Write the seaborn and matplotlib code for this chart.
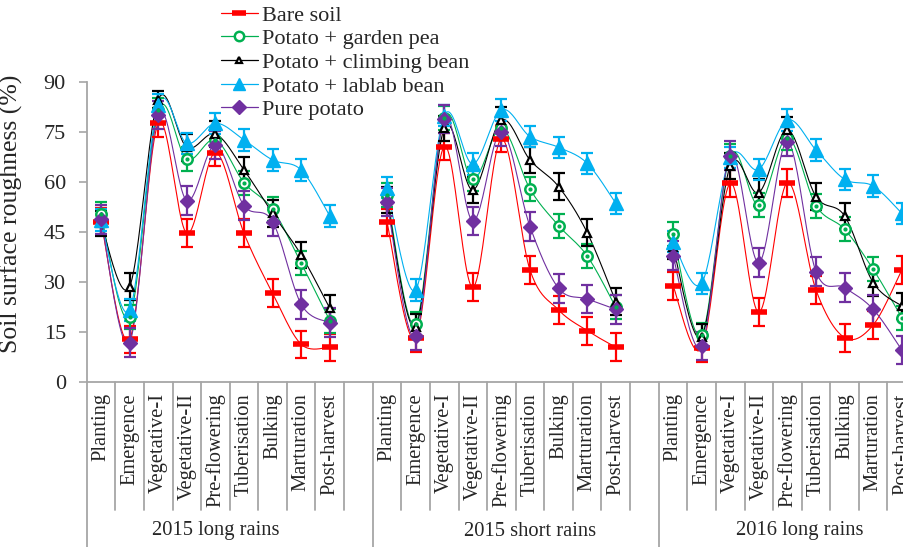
import numpy as np
import pandas as pd
import matplotlib
matplotlib.use("Agg")
import matplotlib.pyplot as plt
import seaborn as sns
from matplotlib.lines import Line2D
from matplotlib.transforms import blended_transform_factory

# ---------------- data ----------------
stages = ["Planting", "Emergence", "Vegetative-I", "Vegetative-II", "Pre-flowering",
          "Tuberisation", "Bulking", "Marturation", "Post-harvest"]
seasons = ["2015 long rains", "2015 short rains", "2016 long rains"]
treatments = ["Bare soil", "Potato + garden pea", "Potato + climbing bean",
              "Potato + lablab bean", "Pure potato"]

bare_soil = [48.2, 12.9, 77.7, 44.7, 68.9, 44.7, 26.7, 11.4, 10.5,
             48.0, 13.2, 70.7, 28.5, 73.0, 33.7, 21.7, 15.5, 10.5,
             29.0, 10.2, 59.7, 21.0, 59.9, 27.7, 13.4, 17.2, 33.7]
garden_pea = [50.5, 19.7, 81.7, 66.9, 72.7, 59.9, 51.9, 35.7, 18.5,
              56.2, 17.4, 79.2, 60.9, 76.2, 58.0, 47.0, 37.9, 22.5,
              44.5, 14.2, 68.0, 53.2, 73.4, 53.0, 45.9, 33.9, 19.4]
climbing_bean = [47.7, 28.7, 84.8, 70.5, 74.5, 63.7, 50.7, 38.2, 22.2,
                 54.7, 16.7, 76.2, 57.7, 78.7, 66.7, 58.7, 44.9, 24.2,
                 40.7, 13.7, 64.9, 56.9, 75.7, 55.7, 49.9, 29.9, 22.9]
lablab_bean = [48.7, 21.7, 83.2, 71.7, 77.7, 72.7, 66.7, 63.7, 49.9,
               58.4, 27.7, 80.0, 65.5, 81.7, 73.7, 70.5, 65.7, 53.7,
               42.2, 29.7, 67.5, 63.9, 78.7, 69.7, 60.9, 58.9, 50.7]
pure_potato = [48.9, 11.9, 80.2, 54.5, 71.2, 53.0, 48.2, 23.4, 17.9,
               54.1, 13.9, 79.0, 48.4, 75.2, 46.7, 28.2, 25.0, 21.9,
               38.0, 10.9, 68.0, 35.9, 72.2, 33.2, 28.4, 21.9, 9.7]

err_bare = [4.0, 4.0, 4.0, 4.2, 4.0, 4.2, 4.2, 4.0, 4.0,
            4.0, 4.0, 4.0, 4.2, 4.0, 4.2, 4.2, 4.2, 4.2,
            4.2, 4.0, 4.2, 4.2, 4.2, 4.2, 4.2, 4.2, 4.2]
err_pea = [3.6, 3.6, 3.6, 3.6, 3.6, 3.6, 3.6, 3.6, 3.6,
           3.6, 3.6, 3.6, 3.6, 3.6, 3.6, 3.6, 3.6, 3.6,
           3.6, 3.6, 3.6, 3.6, 3.6, 3.6, 3.6, 3.6, 3.6]
err_climb = [3.8, 4.0, 2.5, 4.0, 3.8, 4.0, 4.0, 3.8, 4.0,
             3.8, 3.8, 3.8, 4.0, 3.8, 4.0, 4.0, 4.0, 4.0,
             3.8, 3.8, 3.8, 4.0, 3.8, 4.0, 4.0, 4.0, 4.0]
err_lablab = [3.2, 3.2, 3.2, 3.2, 3.2, 3.2, 3.2, 3.2, 3.2,
              3.2, 3.2, 3.2, 3.2, 3.2, 3.2, 3.2, 3.2, 3.2,
              3.2, 3.2, 3.2, 3.2, 3.2, 3.2, 3.2, 3.2, 3.2]
err_pure = [4.3, 4.3, 4.3, 4.3, 4.3, 4.3, 4.3, 4.3, 4.3,
            4.3, 4.3, 4.3, 4.3, 4.3, 4.3, 4.3, 4.3, 4.3,
            4.3, 4.3, 4.3, 4.3, 4.3, 4.3, 4.3, 4.3, 4.3]

yticks = [0, 15, 30, 45, 60, 75, 90]

# ---------------- style ----------------
sns.set_theme(style="white")
plt.rcParams["font.family"] = ["Liberation Serif", "DejaVu Serif"]

FS_CAT = 14.8
FS_TICK = 16
FS_LEG = 16
FS_YLAB = 18.5
GRAY = "#A6A6A6"

styles = {
    "Bare soil": dict(color="#FF0000", marker="_", ms=11, mfc="#FF0000", mec="#FF0000", mew=4.0),
    "Potato + garden pea": dict(color="#00B050", marker="o", ms=7.5, mfc="white", mec="#00B050", mew=1.8),
    "Potato + climbing bean": dict(color="#000000", marker="^", ms=5.5, mfc="white", mec="#000000", mew=1.6),
    "Potato + lablab bean": dict(color="#00B0F0", marker="^", ms=10, mfc="#00B0F0", mec="#00B0F0", mew=1.0),
    "Pure potato": dict(color="#7030A0", marker="D", ms=7.5, mfc="#7030A0", mec="#7030A0", mew=1.0),
}
values = {
    "Bare soil": (bare_soil, err_bare),
    "Potato + garden pea": (garden_pea, err_pea),
    "Potato + climbing bean": (climbing_bean, err_climb),
    "Potato + lablab bean": (lablab_bean, err_lablab),
    "Pure potato": (pure_potato, err_pure),
}

# long-form table
rows = []
for t in treatments:
    v, e = values[t]
    for si, s in enumerate(seasons):
        for ki, st in enumerate(stages):
            idx = si * 9 + ki
            rows.append(dict(treatment=t, season=s, stage=st,
                             x=si * 10 + ki, y=v[idx], err=e[idx]))
df = pd.DataFrame(rows)


def smooth_curve(xs, ys, n=24):
    """Excel-like smoothed line (Catmull-Rom Bezier) through the points."""
    pts = np.column_stack([xs, ys]).astype(float)
    P = np.vstack([pts[0], pts, pts[-1]])
    segs = []
    for i in range(1, len(P) - 2):
        p0, p1, p2, p3 = P[i - 1], P[i], P[i + 1], P[i + 2]
        c1 = p1 + (p2 - p0) / 6.0
        c2 = p2 - (p3 - p1) / 6.0
        t = np.linspace(0, 1, n)[:, None]
        seg = ((1 - t) ** 3) * p1 + 3 * ((1 - t) ** 2) * t * c1 + 3 * (1 - t) * t ** 2 * c2 + t ** 3 * p2
        segs.append(seg if i == 1 else seg[1:])
    c = np.vstack(segs)
    return c[:, 0], c[:, 1]


W, H = 904, 547
fig = plt.figure(figsize=(W / 100, H / 100), dpi=100)
slot = 28.6
left_px, zero_px = 86.7, 382.3
ax = fig.add_axes([left_px / W, (H - zero_px) / H, 30 * slot / W, 300 / H])

for t in treatments:
    st = styles[t]
    d = df[df.treatment == t]
    for s in seasons:
        ds = d[d.season == s]
        cx, cy = smooth_curve(ds.x.values, ds.y.values)
        sns.lineplot(x=cx, y=cy, sort=False, estimator=None, color=st["color"],
                     linewidth=0.8, ax=ax, legend=False)
    ax.errorbar(d.x, d.y, yerr=d.err, fmt="none", ecolor=st["color"],
                elinewidth=1.6, capsize=4.5, capthick=1.6, zorder=3)
    ax.plot(d.x, d.y, linestyle="none", marker=st["marker"], ms=st["ms"],
            mfc=st["mfc"], mec=st["mec"], mew=st["mew"], zorder=4)
    if t == "Potato + garden pea":
        ax.plot(d.x, d.y, linestyle="none", marker="o", ms=2, mfc=st["color"],
                mec=st["color"], zorder=5)

ax.set_xlim(-0.5, 29.5)
ax.set_ylim(0, 90)
ax.set_yticks(yticks)
ax.set_yticklabels([str(v) for v in yticks], fontsize=FS_TICK)
ax.set_xticks([])
ax.tick_params(axis="y", which="major", direction="out", length=6, width=1.2,
               color=GRAY, pad=9, left=True)
for sp in ["top", "right"]:
    ax.spines[sp].set_visible(False)
for sp in ["left", "bottom"]:
    ax.spines[sp].set_color(GRAY)
    ax.spines[sp].set_linewidth(1.3)

ax.set_ylabel("Soil surface roughness (%)", fontsize=FS_YLAB)
ax.yaxis.set_label_coords((23 - left_px) / (30 * slot), (zero_px - 214) / 300)

# category axis decorations
tr = blended_transform_factory(ax.transData, ax.transAxes)
for si in range(3):
    for ki, st_name in enumerate(stages):
        ax.text(si * 10 + ki, -11 / 300, st_name, rotation=90, ha="center", va="top",
                fontsize=FS_CAT, transform=tr, clip_on=False)
for k in range(30):
    xb = k - 0.5
    ybot = -0.56 if k % 10 == 0 else -(510 - zero_px) / 300
    ax.plot([xb, xb], [0, ybot], color=GRAY, lw=1.3, transform=tr, clip_on=False)
season_x = [4.0, 15.0, 24.44]
for sx, s in zip(season_x, seasons):
    ax.text(sx, -(531 - zero_px) / 300, s, ha="center", va="center", fontsize=FS_CAT,
            transform=tr, clip_on=False)

# legend
handles = []
for t in treatments:
    st = styles[t]
    handles.append(Line2D([], [], color=st["color"], lw=0.9, marker=st["marker"],
                          ms=st["ms"] * 0.9, mfc=st["mfc"], mec=st["mec"], mew=st["mew"]))
fig.legend(handles, treatments, loc="upper left", bbox_to_anchor=(221 / W, 1 - 5 / H),
           frameon=False, fontsize=FS_LEG, handlelength=1.65, handletextpad=0.2,
           labelspacing=0.14, borderpad=0, borderaxespad=0)

fig.savefig("out.png", dpi=100)
